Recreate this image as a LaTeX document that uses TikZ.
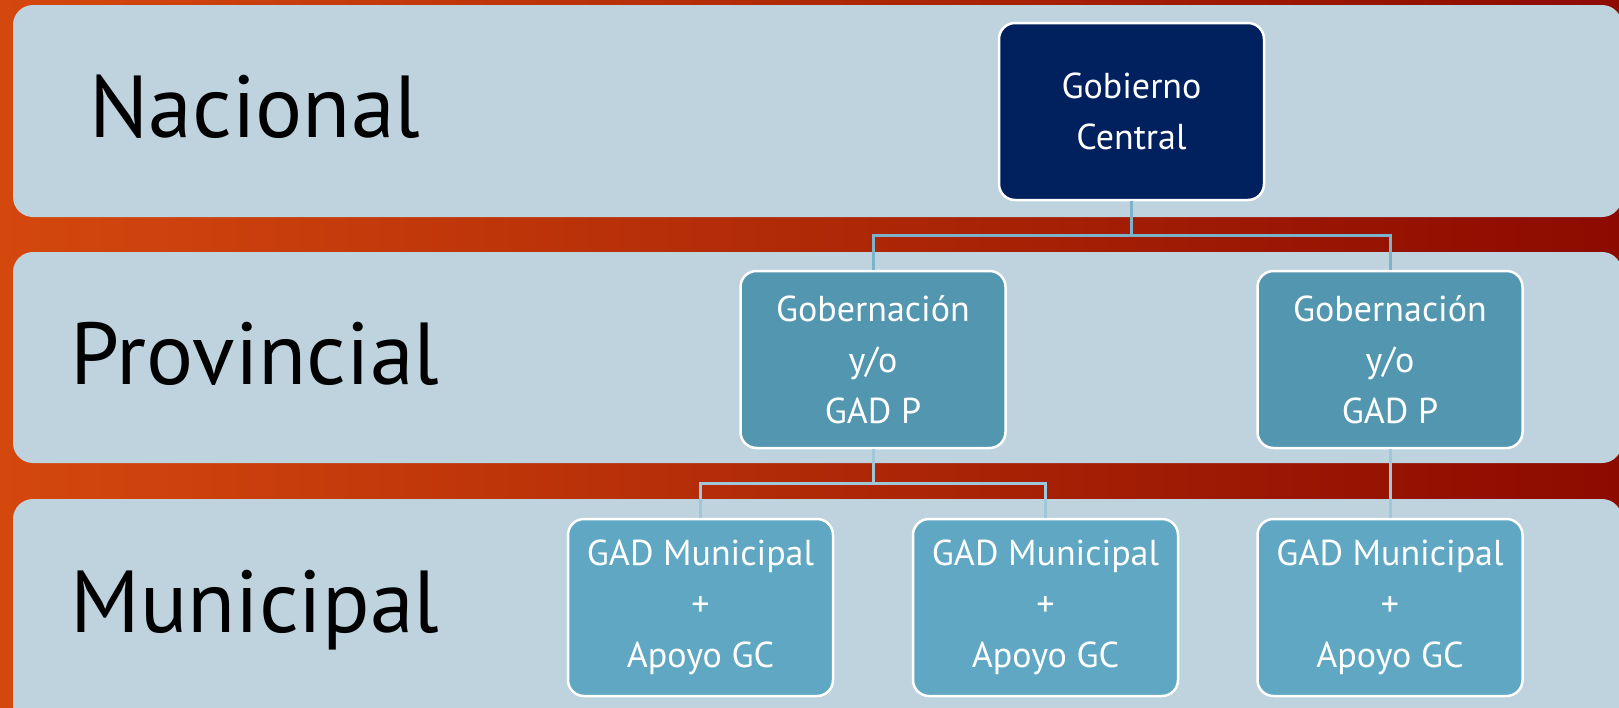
\documentclass[tikz,border=0pt]{standalone}
\usepackage{fontspec}
\setmainfont{PT Sans}
\usetikzlibrary{calc,positioning}
\definecolor{bgleft}{RGB}{212,72,14}
\definecolor{bgright}{RGB}{140,10,0}
\definecolor{bandfill}{RGB}{190,211,222}
\definecolor{navy}{RGB}{0,32,94}
\definecolor{provfill}{RGB}{83,150,175}
\definecolor{munifill}{RGB}{95,167,194}
\definecolor{linkcol}{RGB}{125,178,203}
\definecolor{linkcolb}{RGB}{160,198,217}
\tikzset{
  band/.style={fill=bandfill, rounded corners=20pt},
  levelname/.style={anchor=base, text=black,
    font=\fontsize{88}{100}\selectfont},
  unit/.style={
    rectangle,
    rounded corners=16pt,
    draw=white, line width=2.5pt,
    minimum width=265pt,
    minimum height=177pt,
    inner sep=0pt,
    align=center,
    text=white,
    font=\fontsize{36}{51}\selectfont},
  central/.style={unit, fill=navy},
  prov/.style={unit, fill=provfill},
  muni/.style={unit, fill=munifill},
}

\begin{document}
\begin{tikzpicture}[
    x=1pt, y=-1pt,
    link/.style={draw=linkcol, line width=3pt},
    lowlink/.style={draw=linkcolb, line width=3pt}
    ]

    \useasboundingbox (0,0) rectangle (1619,707);

    %background
    \shade[left color=bgleft, right color=bgright] (0,0) rectangle (1619,707);

    %bands
    \fill[band] (13,5) rectangle (1622,217);
    \fill[band] (13,252) rectangle (1622,463);
    \fill[band] (13,499) rectangle (1622,730);

    %level names
    \node[levelname] (nac) at (255,137) {Nacional};
    \node[levelname] (prv) at (255,384) {Provincial};
    \node[levelname] (mun) at (255,632) {Municipal};

    %units
    \node[central] (gc) at (1131.5,111.5) {Gobierno\\Central};
    \node[prov] (p1) at (873,359.5) {Gobernación\\y/o\\GAD P};
    \node[prov] (p2) at (1390,359.5) {Gobernación\\y/o\\GAD P};
    \node[muni] (m1) at (700.5,607.5) {GAD Municipal\\+\\Apoyo GC};
    \node[muni] (m2) at (1045.5,607.5) {GAD Municipal\\+\\Apoyo GC};
    \node[muni] (m3) at (1390,607.5) {GAD Municipal\\+\\Apoyo GC};

    %connectors
    \coordinate (gcfork) at ($(gc.south)!0.5!(gc.south|-p1.north)$);
    \coordinate (p1fork) at ($(p1.south)!0.5!(p1.south|-m1.north)$);
    \draw[link] (gc.south) -- (gcfork) -| (p1.north);
    \draw[link] (gcfork) -| (p2.north);
    \draw[lowlink] (p1.south) -- (p1fork) -| (m1.north);
    \draw[lowlink] (p1fork) -| (m2.north);
    \draw[lowlink] (p2.south) -- (m3.north);

\end{tikzpicture}
\end{document}
